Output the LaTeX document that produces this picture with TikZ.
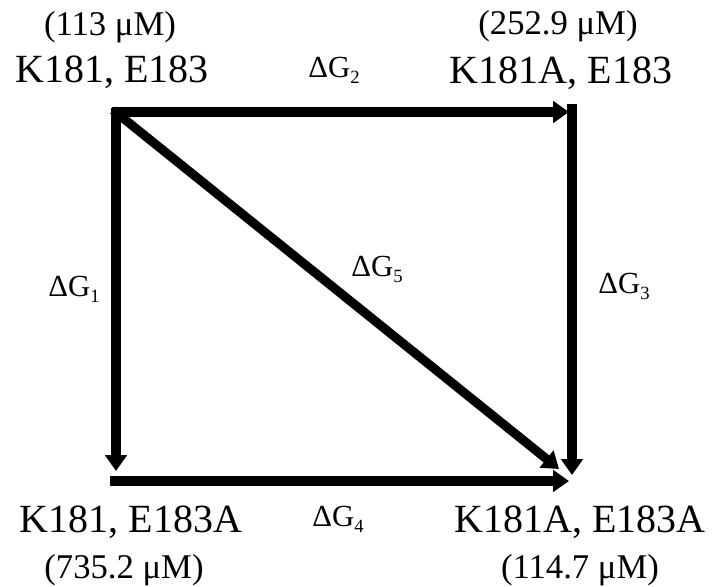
\documentclass[tikz,border=0pt]{standalone}
\usepackage{fontspec}
\setmainfont{Liberation Serif}
\usetikzlibrary{arrows.meta}

\newcommand{\dG}[1]{ΔG\raisebox{-5pt}{\fontsize{14}{14}\selectfont #1}}

\begin{document}
\begin{tikzpicture}[
  x=0.75pt, y=-0.75pt,
  >={Triangle[width=16pt,length=12pt]},
  state/.style={font=\fontsize{30}{32}\selectfont, inner sep=0pt, anchor=base},
  conc/.style={font=\fontsize{26}{28}\selectfont, inner sep=0pt, anchor=base},
  dg/.style={font=\fontsize{23}{25}\selectfont, inner sep=0pt, anchor=base},
  rel/.style={->, line width=6.8pt}
]
\useasboundingbox (0,0) rectangle (718,586);

% states with their concentrations
\node[conc]  (c1) at (110, 35)  {(113 μM)};
\node[state] (s1) at (112, 82)  {K181, E183};
\node[conc]  (c2) at (558, 34)  {(252.9 μM)};
\node[state] (s2) at (561, 83)  {K181A, E183};
\node[state] (s3) at (131, 532) {K181, E183A};
\node[conc]  (c3) at (124, 578) {(735.2 μM)};
\node[state] (s4) at (580, 532) {K181A, E183A};
\node[conc]  (c4) at (580, 578) {(114.7 μM)};

% arrow ends
\coordinate (a1) at (112,112);
\coordinate (a2) at (569,112);
\coordinate (b1) at (116,108);
\coordinate (b2) at (116,471);
\coordinate (d1) at (572,104);
\coordinate (d2) at (572,475);
\coordinate (e1) at (110,481);
\coordinate (e2) at (569,481);
\coordinate (f1) at (113,110);
\coordinate (f2) at (559,469);

\draw[rel] (a1) -- (a2);
\draw[rel] (b1) -- (b2);
\draw[rel] (d1) -- (d2);
\draw[rel] (e1) -- (e2);
\draw[rel] (f1) -- (f2);

% free energy labels
\node[dg] (g1) at (74, 296)  {\dG{1}};
\node[dg] (g2) at (334, 77)  {\dG{2}};
\node[dg] (g3) at (624, 293) {\dG{3}};
\node[dg] (g4) at (338, 526) {\dG{4}};
\node[dg] (g5) at (377, 276) {\dG{5}};
\end{tikzpicture}
\end{document}
